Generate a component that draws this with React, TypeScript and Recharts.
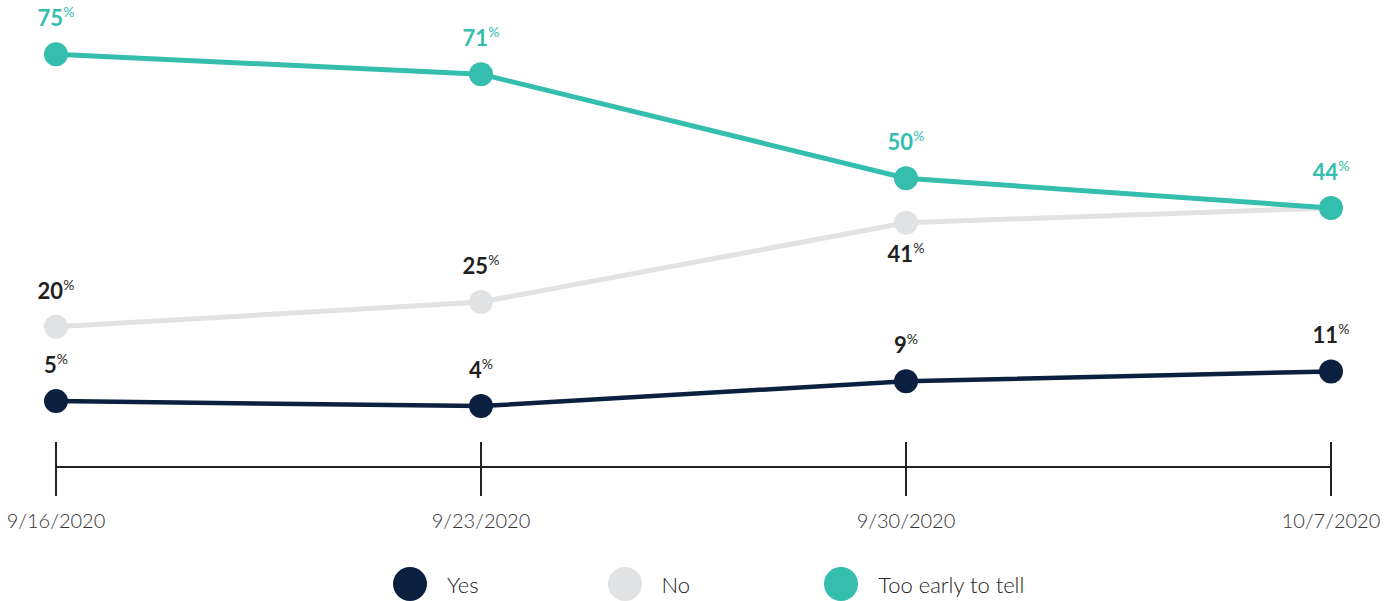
// Weekly poll: is the change working? — three-series line chart
import { LineChart, Line, XAxis, YAxis, Legend, LabelList } from "recharts";

const CATEGORIES = ["9/16/2020", "9/23/2020", "9/30/2020", "10/7/2020"];
const YES = [5, 4, 9, 11];
const NO = [20, 25, 41, 44];
const TOO_EARLY = [75, 71, 50, 44];

const SERIES_NAMES = ["Yes", "No", "Too early to tell"];
const SERIES_KEYS = ["yes", "no", "early"];

const COLOURS: Record<string, string> = {
  yes: "#0b1f3f",
  no: "#e1e2e4",
  early: "#35bdae",
};

const FONT = "Lato, 'Noto Sans', sans-serif";
const TEXT_DARK = "#1f1f1f";

const data = CATEGORIES.map((date, i) => ({
  date,
  yes: YES[i],
  no: NO[i],
  early: TOO_EARLY[i],
}));

function DateTick(props: any) {
  const { x, y, payload } = props;
  return (
    <g>
      <line x1={x} x2={x} y1={y - 25} y2={y + 29} stroke="#222" strokeWidth={2} />
      <text x={x} y={y + 61} textAnchor="middle" fontSize={20} fontWeight={300} fill="#333" fontFamily={FONT}>
        {payload.value}
      </text>
    </g>
  );
}

// value label with a small raised "%"
function makeLabel(colour: string, below: number[] = [], skip: number[] = []) {
  return (props: any) => {
    const { x, y, value, index } = props;
    if (skip.includes(index)) return null;
    const ty = below.includes(index) ? y + 39 : y - 28;
    return (
      <text x={x} y={ty} textAnchor="middle" fontFamily={FONT} fill={colour}>
        <tspan fontSize={22} fontWeight={700}>{value}</tspan>
        <tspan fontSize={14} fontWeight={400} dy={-9}>%</tspan>
      </text>
    );
  };
}

function LegendContent() {
  return (
    <div style={{ display: "flex", alignItems: "center", fontFamily: FONT }}>
      {SERIES_KEYS.map((k, i) => (
        <div key={k} style={{ display: "flex", alignItems: "center", marginRight: i === 0 ? 129 : 134 }}>
          <span
            style={{
              width: 34,
              height: 34,
              borderRadius: "50%",
              background: COLOURS[k],
              display: "inline-block",
              marginRight: 20,
            }}
          />
          <span style={{ fontSize: 22, fontWeight: 300, color: "#222" }}>{SERIES_NAMES[i]}</span>
        </div>
      ))}
    </div>
  );
}

export default function App() {
  return (
    <div style={{ position: "absolute", left: 0, top: 0, width: 1387, height: 601, background: "#fff" }}>
      <LineChart
        width={1387}
        height={601}
        data={data}
        margin={{ top: 40, right: 56, left: 56, bottom: 84 }}
      >
        <XAxis
          dataKey="date"
          height={50}
          tick={<DateTick />}
          tickLine={false}
          tickSize={0}
          tickMargin={0}
          axisLine={{ stroke: "#222", strokeWidth: 2 }}
          interval={0}
        />
        <YAxis hide domain={[-8.3, 77.9]} />
        <Legend
          layout="horizontal"
          verticalAlign="middle"
          align="center"
          wrapperStyle={{ top: 567, left: 393, width: "auto" }}
          content={<LegendContent />}
        />
        <Line
          dataKey="no"
          stroke={COLOURS.no}
          strokeWidth={5}
          dot={{ r: 12, fill: COLOURS.no, strokeWidth: 0 }}
          isAnimationActive={false}
        >
          <LabelList dataKey="no" content={makeLabel(TEXT_DARK, [2], [3])} />
        </Line>
        <Line
          dataKey="yes"
          stroke={COLOURS.yes}
          strokeWidth={4.5}
          dot={{ r: 12, fill: COLOURS.yes, strokeWidth: 0 }}
          isAnimationActive={false}
        >
          <LabelList dataKey="yes" content={makeLabel(TEXT_DARK)} />
        </Line>
        <Line
          dataKey="early"
          stroke={COLOURS.early}
          strokeWidth={5}
          dot={{ r: 12, fill: COLOURS.early, strokeWidth: 0 }}
          isAnimationActive={false}
        >
          <LabelList dataKey="early" content={makeLabel(COLOURS.early)} />
        </Line>
      </LineChart>
    </div>
  );
}
